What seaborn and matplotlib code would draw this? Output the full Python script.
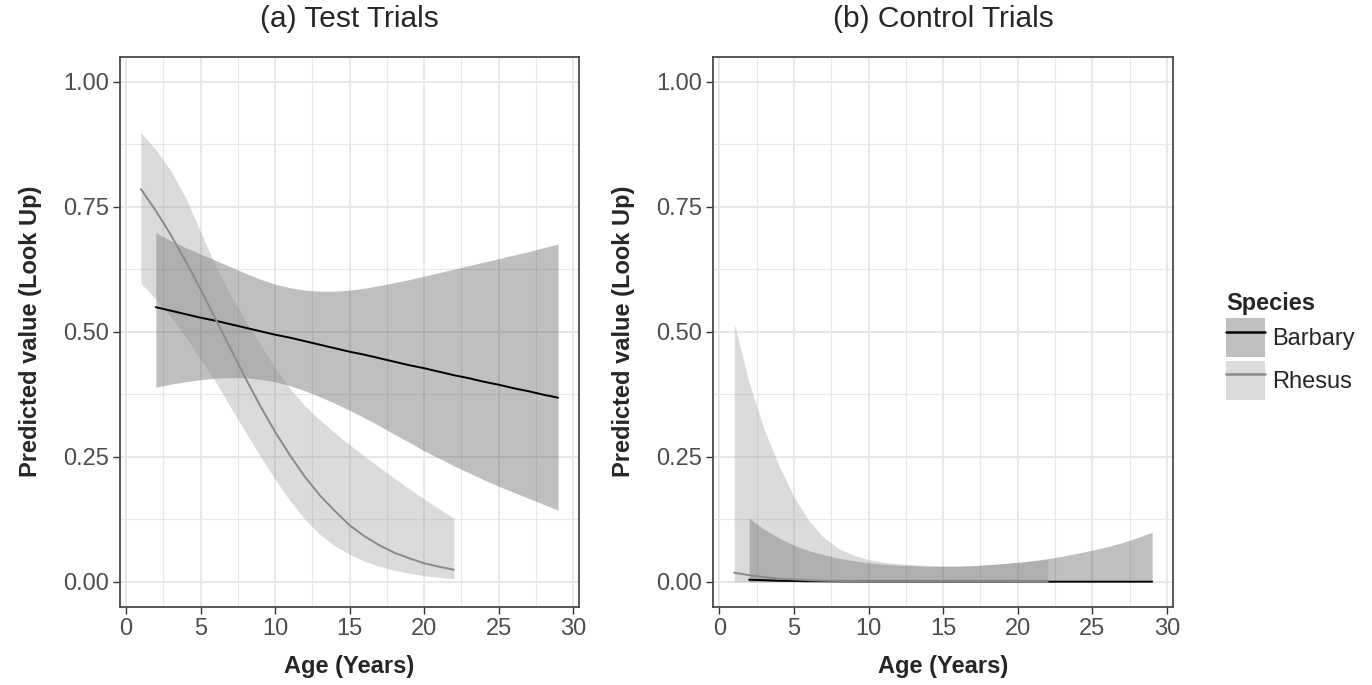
import numpy as np
import pandas as pd
import matplotlib
matplotlib.use("Agg")
import matplotlib.pyplot as plt
import seaborn as sns
from matplotlib.patches import Patch
from matplotlib.lines import Line2D
from matplotlib.legend_handler import HandlerTuple

# ---------------- data ----------------
SPECIES = ["Barbary", "Rhesus"]
PANEL_TITLES = ["(a) Test Trials", "(b) Control Trials"]

AGE_BARBARY = list(range(2, 30))
AGE_RHESUS = list(range(1, 23))

# (a) Test trials
test_barbary_fit = [0.549, 0.542, 0.535, 0.528, 0.522, 0.515, 0.508, 0.501, 0.494, 0.488,
                    0.481, 0.474, 0.467, 0.460, 0.454, 0.447, 0.440, 0.433, 0.427, 0.420,
                    0.413, 0.407, 0.400, 0.394, 0.387, 0.381, 0.374, 0.368]
test_barbary_hi = [0.698, 0.682, 0.668, 0.655, 0.643, 0.630, 0.617, 0.605, 0.595, 0.588,
                   0.583, 0.581, 0.581, 0.583, 0.587, 0.592, 0.598, 0.604, 0.611, 0.618,
                   0.625, 0.632, 0.639, 0.646, 0.653, 0.660, 0.668, 0.675]
test_barbary_lo = [0.389, 0.395, 0.400, 0.404, 0.407, 0.408, 0.408, 0.405, 0.400, 0.392,
                   0.382, 0.370, 0.357, 0.343, 0.328, 0.312, 0.295, 0.279, 0.262, 0.247,
                   0.232, 0.218, 0.204, 0.191, 0.179, 0.167, 0.155, 0.143]
test_rhesus_fit = [0.785, 0.742, 0.694, 0.641, 0.585, 0.526, 0.467, 0.408, 0.352, 0.300,
                   0.253, 0.210, 0.173, 0.142, 0.113, 0.091, 0.073, 0.058, 0.047, 0.037,
                   0.030, 0.024]
test_rhesus_hi = [0.898, 0.864, 0.822, 0.768, 0.700, 0.632, 0.574, 0.523, 0.475, 0.428,
                  0.386, 0.352, 0.324, 0.298, 0.274, 0.251, 0.229, 0.207, 0.186, 0.166,
                  0.146, 0.127]
test_rhesus_lo = [0.597, 0.565, 0.530, 0.490, 0.445, 0.400, 0.350, 0.300, 0.252, 0.205,
                  0.162, 0.125, 0.095, 0.072, 0.055, 0.041, 0.031, 0.023, 0.017, 0.012,
                  0.009, 0.006]

# (b) Control trials
ctrl_barbary_fit = [0.004, 0.003, 0.002, 0.0015, 0.001, 0.0008, 0.0006, 0.0004, 0.0003, 0.0002,
                    0.0002, 0.0001, 0.0001, 0.0, 0.0, 0.0, 0.0, 0.0, 0.0, 0.0,
                    0.0, 0.0, 0.0, 0.0, 0.0, 0.0, 0.0, 0.0]
ctrl_barbary_hi = [0.127, 0.105, 0.087, 0.073, 0.062, 0.054, 0.047, 0.042, 0.038, 0.035,
                   0.033, 0.032, 0.031, 0.031, 0.031, 0.032, 0.034, 0.036, 0.039, 0.042,
                   0.046, 0.051, 0.057, 0.063, 0.070, 0.078, 0.088, 0.099]
ctrl_barbary_lo = [0.0] * 28
ctrl_rhesus_fit = [0.018, 0.013, 0.009, 0.006, 0.0045, 0.003, 0.002, 0.0015, 0.001, 0.0007,
                   0.0005, 0.0004, 0.0003, 0.0002, 0.0002, 0.0001, 0.0001, 0.0001, 0.0001, 0.0,
                   0.0, 0.0]
ctrl_rhesus_hi = [0.517, 0.398, 0.305, 0.232, 0.170, 0.122, 0.088, 0.066, 0.053, 0.044,
                  0.039, 0.036, 0.034, 0.032, 0.031, 0.031, 0.032, 0.034, 0.036, 0.038,
                  0.041, 0.044]
ctrl_rhesus_lo = [0.0] * 22

X_TICKS = [0, 5, 10, 15, 20, 25, 30]
Y_TICKS = [0.0, 0.25, 0.5, 0.75, 1.0]
Y_TICK_LABELS = ["0.00", "0.25", "0.50", "0.75", "1.00"]

# ---------------- style ----------------
sns.set_theme(style="white")
plt.rcParams["font.family"] = ["Liberation Sans", "DejaVu Sans"]

LINE_COLORS = {"Barbary": "#000000", "Rhesus": "#8a8a8a"}
FILL_COLORS = {"Barbary": "#2e2e2e", "Rhesus": "#8a8a8a"}
FILL_ALPHA = 0.30
GRID = "#e8e8e8"
TICK_TXT = "#4d4d4d"


def make_df(age_b, fit_b, lo_b, hi_b, age_r, fit_r, lo_r, hi_r):
    b = pd.DataFrame({"Age": age_b, "fit": fit_b, "lo": lo_b, "hi": hi_b, "Species": "Barbary"})
    r = pd.DataFrame({"Age": age_r, "fit": fit_r, "lo": lo_r, "hi": hi_r, "Species": "Rhesus"})
    return pd.concat([b, r], ignore_index=True)


df_test = make_df(AGE_BARBARY, test_barbary_fit, test_barbary_lo, test_barbary_hi,
                  AGE_RHESUS, test_rhesus_fit, test_rhesus_lo, test_rhesus_hi)
df_ctrl = make_df(AGE_BARBARY, ctrl_barbary_fit, ctrl_barbary_lo, ctrl_barbary_hi,
                  AGE_RHESUS, ctrl_rhesus_fit, ctrl_rhesus_lo, ctrl_rhesus_hi)

fig = plt.figure(figsize=(13.72, 6.85), dpi=100)
ax1 = fig.add_axes([0.0875, 0.1143, 0.3345, 0.803])
ax2 = fig.add_axes([0.5199, 0.1143, 0.3351, 0.803])

for ax, df, title in [(ax1, df_test, PANEL_TITLES[0]), (ax2, df_ctrl, PANEL_TITLES[1])]:
    ax.set_facecolor("white")
    ax.set_xlim(-0.4, 30.4)
    ax.set_ylim(-0.05, 1.05)
    ax.set_xticks(X_TICKS)
    ax.set_xticks([2.5, 7.5, 12.5, 17.5, 22.5, 27.5], minor=True)
    ax.set_yticks(Y_TICKS)
    ax.set_yticks([0.125, 0.375, 0.625, 0.875], minor=True)
    ax.set_yticklabels(Y_TICK_LABELS)
    ax.grid(True, which="major", color=GRID, linewidth=1.4, zorder=0)
    ax.grid(True, which="minor", color=GRID, linewidth=0.8, zorder=0)
    ax.set_axisbelow(True)
    # ribbons
    for sp in SPECIES:
        d = df[df["Species"] == sp]
        ax.fill_between(d["Age"], d["lo"], d["hi"], color=FILL_COLORS[sp],
                        alpha=FILL_ALPHA, linewidth=0, zorder=2)
    # lines
    sns.lineplot(data=df, x="Age", y="fit", hue="Species", hue_order=SPECIES,
                 palette=LINE_COLORS, linewidth=1.4, legend=False, ax=ax, zorder=3)
    for s in ax.spines.values():
        s.set_visible(True)
        s.set_color("#4a4a4a")
        s.set_linewidth(1.3)
    ax.tick_params(axis="both", which="major", length=5, width=1.0, color="#333333",
                   labelsize=17, labelcolor=TICK_TXT, pad=3, bottom=True, left=True)
    ax.tick_params(axis="both", which="minor", length=0)
    ax.set_xlabel("Age (Years)", fontsize=17, fontweight="bold", labelpad=11)
    ax.set_ylabel("Predicted value (Look Up)", fontsize=17, fontweight="bold", labelpad=15)
    ax.set_title(title, fontsize=21.5, pad=21)

handles = []
for sp in SPECIES:
    handles.append((Patch(facecolor=FILL_COLORS[sp], alpha=FILL_ALPHA, edgecolor="none"),
                    Line2D([0], [0], color=LINE_COLORS[sp], linewidth=1.8)))
leg = fig.legend(handles, SPECIES, title="Species", loc="upper left",
                 bbox_to_anchor=(0.8935, 0.574), frameon=False,
                 handler_map={tuple: HandlerTuple(ndivide=1, pad=0)},
                 fontsize=17, title_fontproperties={"weight": "bold", "size": 17},
                 handlelength=1.65, handleheight=2.17, labelspacing=0.15,
                 handletextpad=0.3, borderpad=0, borderaxespad=0, alignment="left")

fig.savefig("out.png", dpi=100)
